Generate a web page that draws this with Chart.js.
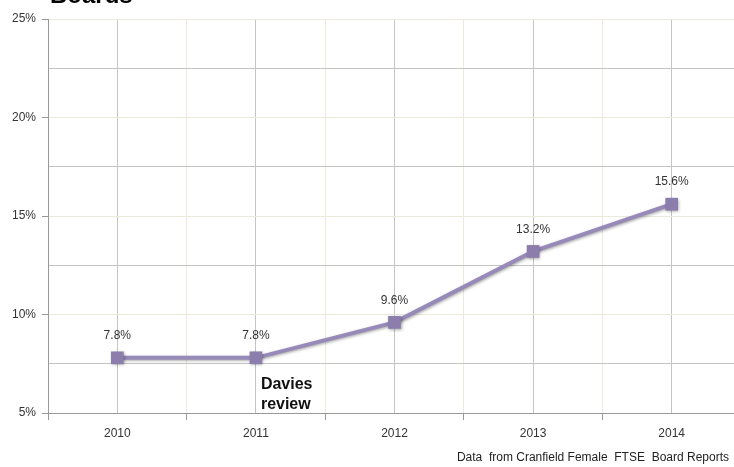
<!DOCTYPE html>
<html>
<head>
<meta charset="utf-8">
<script src="https://cdn.jsdelivr.net/npm/chart.js@4"></script>
<style>
  html, body { margin: 0; padding: 0; background: #fff; overflow: hidden; }
  canvas { display: block; }
</style>
</head>
<body>
<canvas id="chart" width="750" height="467"></canvas>
<script>
// Women on boards, share by year
const YEARS = [2010, 2011, 2012, 2013, 2014];
const SHARE = [7.8, 7.8, 9.6, 13.2, 15.6];
const LABELS = ['7.8%', '7.8%', '9.6%', '13.2%', '15.6%'];
const Y_TICKS = [5, 10, 15, 20, 25];

const TITLE = 'Boards';
const NOTE = ['Davies', 'review'];
const SOURCE = 'Data  from Cranfield Female  FTSE  Board Reports';

const FONT = '"Liberation Sans", Arial, sans-serif';
const LINE_COLOR = 'rgb(152, 138, 184)';
const MARK_COLOR = 'rgb(140, 126, 172)';
const GRID_MAJOR = '#c4c4c2';
const GRID_MINOR = '#ece9dd';

// Texts drawn straight onto the canvas: title, annotation, source, value labels
const textPlugin = {
    id: 'texts',
    beforeDatasetsDraw(chart) {
        const ctx = chart.ctx;
        ctx.save();
        ctx.shadowColor = 'rgba(0,0,0,0.35)';
        ctx.shadowBlur = 3;
        ctx.shadowOffsetX = 1;
        ctx.shadowOffsetY = 1;
    },
    afterDatasetsDraw(chart) {
        const ctx = chart.ctx;
        ctx.restore();
        ctx.save();
        const pts = chart.getDatasetMeta(0).data;
        ctx.fillStyle = '#333';
        ctx.font = '12px ' + FONT;
        ctx.textAlign = 'center';
        ctx.textBaseline = 'middle';
        pts.forEach((p, i) => ctx.fillText(LABELS[i], p.x, p.y - 22));

        // title, mostly above the top edge
        ctx.fillStyle = '#000';
        ctx.font = 'bold 24px ' + FONT;
        ctx.textAlign = 'left';
        ctx.textBaseline = 'alphabetic';
        ctx.fillText(TITLE, 50, 3);

        // annotation under 2011
        ctx.font = 'bold 16px ' + FONT;
        ctx.fillStyle = '#111';
        ctx.textBaseline = 'middle';
        const x11 = chart.scales.x.getPixelForValue(2011);
        ctx.fillText(NOTE[0], x11 + 5, 385);
        ctx.fillText(NOTE[1], x11 + 5, 405);

        // source
        ctx.font = '12px ' + FONT;
        ctx.fillStyle = '#222';
        ctx.textAlign = 'right';
        ctx.fillText(SOURCE, 729, 458);
        ctx.restore();
    },
};

new Chart(document.getElementById('chart'), {
    type: 'line',
    data: {
        datasets: [{
            data: YEARS.map((y, i) => ({ x: y, y: SHARE[i] })),
            borderColor: LINE_COLOR,
            backgroundColor: MARK_COLOR,
            borderWidth: 4,
            pointStyle: 'rect',
            pointRadius: 9,
            pointBorderWidth: 0,
            tension: 0,
        }],
    },
    options: {
        responsive: false,
        animation: false,
        events: [],
        layout: { padding: { left: 0, right: 6.5, top: 19, bottom: 0 } },
        plugins: { legend: { display: false }, tooltip: { enabled: false } },
        scales: {
            x: {
                type: 'linear',
                min: 2009.5,
                max: 2014.5,
                afterFit(scale) { scale.height = 54; },
                ticks: {
                    stepSize: 0.5,
                    autoSkip: false,
                    maxRotation: 0,
                    padding: 6,
                    color: '#333',
                    font: { family: FONT, size: 12 },
                    callback: v => (Number.isInteger(v) ? String(v) : ''),
                },
                grid: {
                    color: c => (Number.isInteger(c.tick.value) ? GRID_MAJOR : GRID_MINOR),
                    tickColor: c => (Number.isInteger(c.tick.value) ? 'transparent' : '#999'),
                    tickLength: 7,
                },
                border: { color: '#999', width: 1 },
            },
            y: {
                min: 5,
                max: 25,
                afterFit(scale) { scale.width = 48; },
                afterBuildTicks(scale) {
                    const t = [];
                    for (let v = 5; v <= 25; v += 2.5) t.push({ value: v });
                    scale.ticks = t;
                },
                ticks: {
                    padding: 6,
                    color: '#333',
                    font: { family: FONT, size: 12 },
                    callback: v => (Y_TICKS.includes(v) ? v + '%' : ''),
                },
                grid: {
                    color: c => (c.tick.value % 5 === 0 ? GRID_MINOR : GRID_MAJOR),
                    tickColor: c => (c.tick.value % 5 === 0 ? '#999' : 'transparent'),
                    tickLength: 6,
                },
                border: { color: '#999', width: 1 },
            },
        },
    },
    plugins: [textPlugin],
});
</script>
</body>
</html>
